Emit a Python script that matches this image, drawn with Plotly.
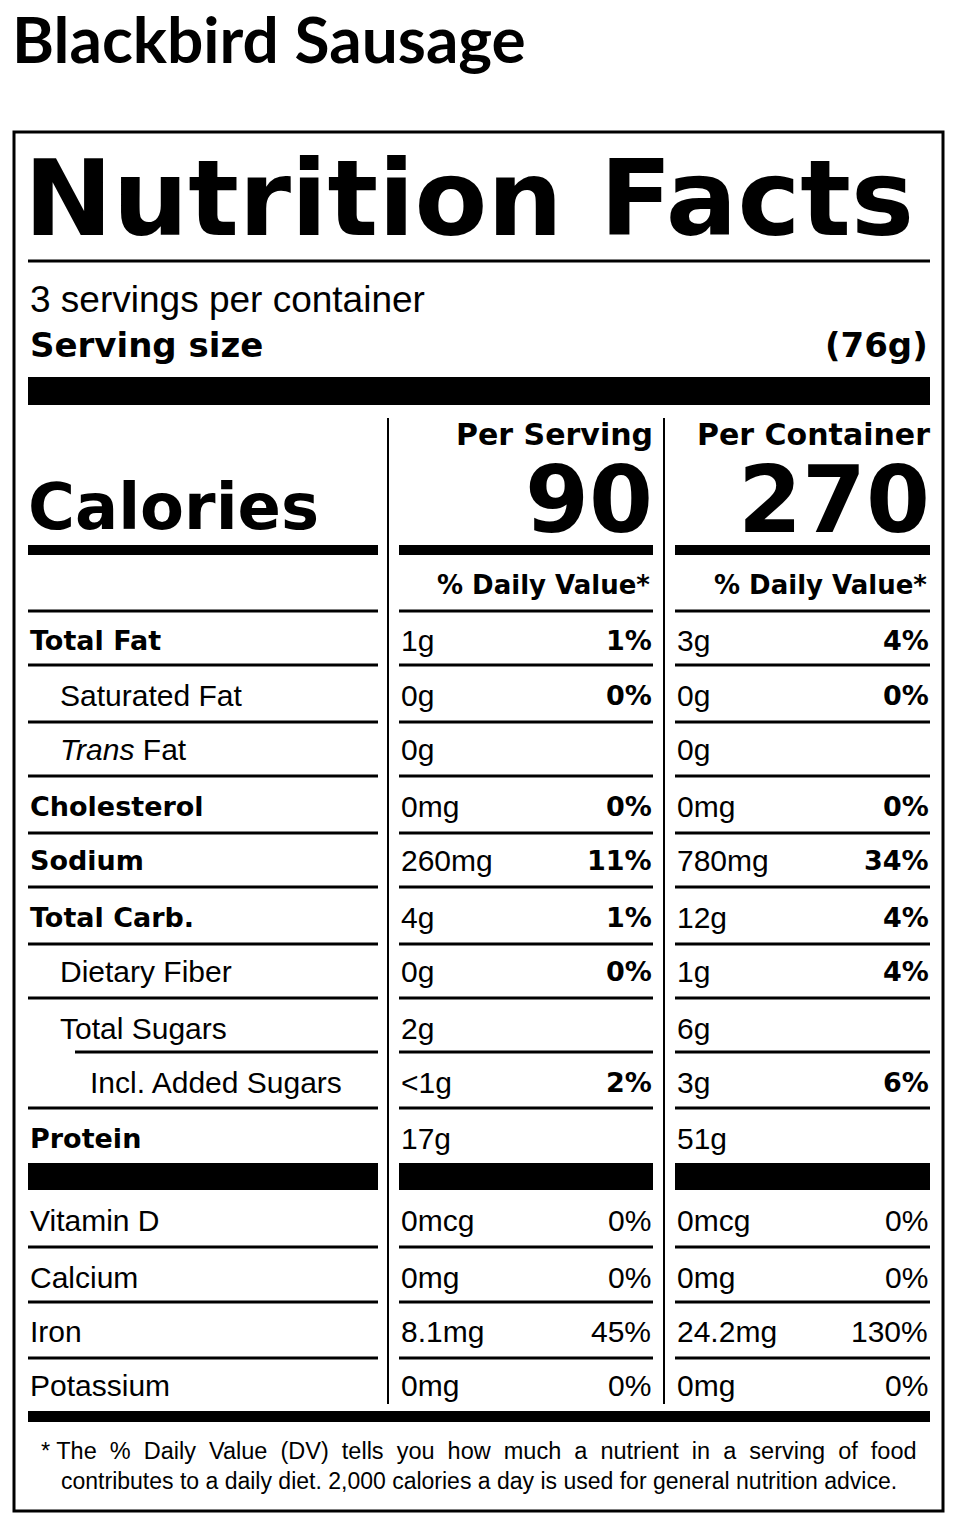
import plotly.graph_objects as go

title = "Blackbird Sausage"
servings_text = "3 servings per container"
serving_size = "(76g)"
cal_serving = "90"
cal_container = "270"

names = ["Total Fat", "Saturated Fat", "<i>Trans</i> Fat", "Cholesterol", "Sodium",
         "Total Carb.", "Dietary Fiber", "Total Sugars", "Incl. Added Sugars", "Protein"]
bold = [True, False, False, True, True, True, False, False, False, True]
indent = [0, 1, 1, 0, 0, 0, 1, 1, 2, 0]
serv_amt = ["1g", "0g", "0g", "0mg", "260mg", "4g", "0g", "2g", "<1g", "17g"]
serv_dv = ["1%", "0%", "", "0%", "11%", "1%", "0%", "", "2%", ""]
cont_amt = ["3g", "0g", "0g", "0mg", "780mg", "12g", "1g", "6g", "3g", "51g"]
cont_dv = ["4%", "0%", "", "0%", "34%", "4%", "4%", "", "6%", ""]
row_y = [640, 695, 749, 806, 860, 917, 971, 1028, 1082, 1138]
sep_y = [665, 722, 776, 833, 887, 944, 998, 1052, 1108]

vit_names = ["Vitamin D", "Calcium", "Iron", "Potassium"]
vit_serv_amt = ["0mcg", "0mg", "8.1mg", "0mg"]
vit_serv_dv = ["0%", "0%", "45%", "0%"]
vit_cont_amt = ["0mcg", "0mg", "24.2mg", "0mg"]
vit_cont_dv = ["0%", "0%", "130%", "0%"]
vit_y = [1220, 1277, 1331, 1385]
vit_sep = [1247, 1302, 1358]

footnote1 = "* The  %  Daily  Value  (DV)  tells  you  how  much  a  nutrient  in  a  serving  of  food"
footnote2 = "contributes to a daily diet. 2,000 calories a day is used for general nutrition advice."

REG = "Liberation Sans"
BLD = "DejaVu Sans"
shapes = []
ann = []

def rect(x0, y0, x1, y1):
    shapes.append(dict(type="rect", x0=x0, x1=x1, y0=y0, y1=y1, fillcolor="black", line_width=0, layer="above"))

def hline(y, x0, x1, w=2):
    rect(x0, y - w / 2, x1, y + w / 2)

def text(x, y, s, size, anchor="left", b=False, font=None):
    f = font or (BLD if b else REG)
    ann.append(dict(x=x, y=y, text=("<b>%s</b>" % s) if b else s, showarrow=False, xanchor=anchor,
                    yanchor="middle", font=dict(size=size, family=f, color="black")))

segs = [(28, 378), (399, 653), (675, 930)]

text(10, 38, title, 64, b=True, font="Lato")
shapes.append(dict(type="rect", x0=14, x1=943, y0=132, y1=1511, line=dict(color="black", width=3)))
text(22, 198, "Nutrition Facts", 106, b=True)
hline(261, 28, 930, 3)
text(28, 299, servings_text, 37)
text(28, 345, "Serving size", 34, b=True)
text(930, 345, serving_size, 34, anchor="right", b=True)
rect(28, 377, 930, 405)
rect(387, 418, 389, 1404)
rect(663, 418, 665, 1404)
text(655, 434, "Per Serving", 30, anchor="right", b=True)
text(932, 434, "Per Container", 30, anchor="right", b=True)
text(26, 507, "Calories", 64, b=True)
text(655, 500, cal_serving, 92, anchor="right", b=True)
text(932, 500, cal_container, 92, anchor="right", b=True)
for a, b_ in segs:
    rect(a, 545, b_, 555)
    hline(611, a, b_, 3)
text(652, 585, "% Daily Value*", 26, anchor="right", b=True)
text(929, 585, "% Daily Value*", 26, anchor="right", b=True)

for i, n in enumerate(names):
    y = row_y[i]
    text(28 + 30 * indent[i], y, n, 30 if not bold[i] else 27, b=bold[i])
    text(399, y, serv_amt[i], 30)
    if serv_dv[i]:
        text(654, y, serv_dv[i], 27, anchor="right", b=True)
    text(675, y, cont_amt[i], 30)
    if cont_dv[i]:
        text(931, y, cont_dv[i], 27, anchor="right", b=True)
for j, y in enumerate(sep_y):
    x0 = 75 if j == 7 else 28
    hline(y, x0, 378, 3)
    hline(y, 399, 653, 3)
    hline(y, 675, 930, 3)

for a, b_ in segs:
    rect(a, 1163, b_, 1190)

for i, n in enumerate(vit_names):
    y = vit_y[i]
    text(28, y, n, 30)
    text(399, y, vit_serv_amt[i], 30)
    text(653, y, vit_serv_dv[i], 30, anchor="right")
    text(675, y, vit_cont_amt[i], 30)
    text(930, y, vit_cont_dv[i], 30, anchor="right")
for y in vit_sep:
    for a, b_ in segs:
        hline(y, a, b_, 3)

rect(28, 1411, 930, 1422)
text(479, 1451, footnote1, 23.5, anchor="center")
text(479, 1481, footnote2, 23, anchor="center")

fig = go.Figure()
fig.update_layout(width=957, height=1525, margin=dict(l=0, r=0, t=0, b=0),
                  paper_bgcolor="white", plot_bgcolor="white",
                  xaxis=dict(range=[8, 965], visible=False, fixedrange=True),
                  yaxis=dict(range=[1533, 8], visible=False, fixedrange=True),
                  shapes=shapes, annotations=ann, showlegend=False)
fig.write_html("out.html")
